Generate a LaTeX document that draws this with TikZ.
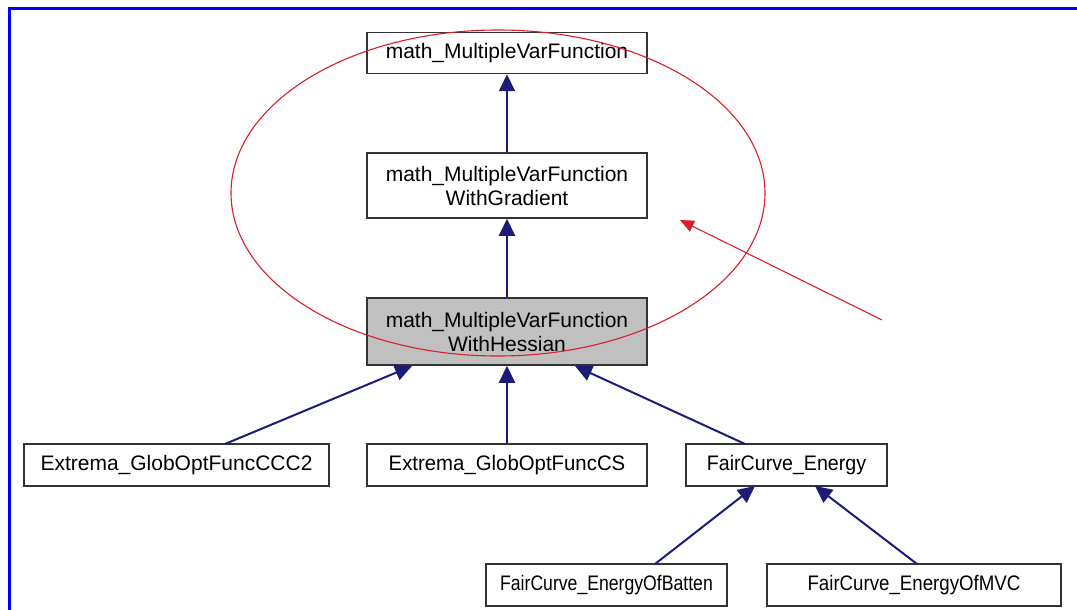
\documentclass[tikz,border=0pt]{standalone}
\usepackage{fontspec}
\usepackage{graphicx}
\setmainfont{Liberation Sans}
\usetikzlibrary{arrows.meta,shapes.geometric}
\definecolor{navy}{HTML}{1C1C78}
\definecolor{boxgray}{HTML}{C0C0C0}
\definecolor{ered}{HTML}{D8202C}
\newcommand\hsq[2]{\scalebox{#1}[1]{#2}}
\begin{document}
\begin{tikzpicture}[x=1pt,y=-1pt,
  cls/.style={draw=black!80,line width=1.5pt,fill=white,inner sep=0pt,font=\fontsize{21}{24}\selectfont,align=center},
  inh/.style={draw=navy,line width=2pt,-{Triangle[length=17pt,width=16pt]}},
  note/.style={draw=ered,line width=1.1pt}]
\useasboundingbox (0,0) rectangle (1077,610);
\fill[white] (0,0) rectangle (1077,610);
\draw[blue,line width=3pt] (9,612) -- (9,9) -- (1079,9);
% nodes
\node[cls,minimum width=280pt,minimum height=41pt] (mvf) at (507,53) {math\_MultipleVarFunction};
\node[cls,minimum width=280pt,minimum height=65pt] (grad) at (507,185.5) {math\_MultipleVarFunction\\WithGradient};
\node[cls,fill=boxgray,minimum width=280pt,minimum height=67pt] (hess) at (507,331.5) {math\_MultipleVarFunction\\WithHessian};
\node[cls,minimum width=305pt,minimum height=42pt] (ccc) at (176.5,465) {Extrema\_GlobOptFuncCCC2};
\node[cls,minimum width=280pt,minimum height=42pt] (cs) at (507,465) {\hsq{0.97}{Extrema\_GlobOptFuncCS}};
\node[cls,minimum width=201pt,minimum height=42pt] (fce) at (786.5,465) {\hsq{0.935}{FairCurve\_Energy}};
\node[cls,minimum width=241pt,minimum height=42pt] (bat) at (606.5,585) {\hsq{0.84}{FairCurve\_EnergyOfBatten}};
\node[cls,minimum width=294pt,minimum height=42pt] (mvc) at (914,585) {\hsq{0.89}{FairCurve\_EnergyOfMVC}};
% connectors
\coordinate (cccT) at (225,444);
\coordinate (hessA) at (412,366);
\coordinate (fceT) at (745,444);
\coordinate (hessB) at (575,366);
\coordinate (batT) at (655,564);
\coordinate (fceA) at (755,486);
\coordinate (mvcT) at (917,564);
\coordinate (fceB) at (815,486);
\draw[inh] (grad.north) -- (mvf.south);
\draw[inh] (hess.north) -- (grad.south);
\draw[inh] (cs.north) -- (hess.south);
\draw[inh] (cccT) -- (hessA);
\draw[inh] (fceT) -- (hessB);
\draw[inh] (batT) -- (fceA);
\draw[inh] (mvcT) -- (fceB);
% annotation
\node[note,ellipse,draw,minimum width=534pt,minimum height=326pt,inner sep=0pt] (ell) at (498,193) {};
\coordinate (rs) at (882,320);
\coordinate (re) at (680,220);
\draw[note,-{Triangle[length=14pt,width=12pt]},ered] (rs) -- (re);
\end{tikzpicture}
\end{document}
